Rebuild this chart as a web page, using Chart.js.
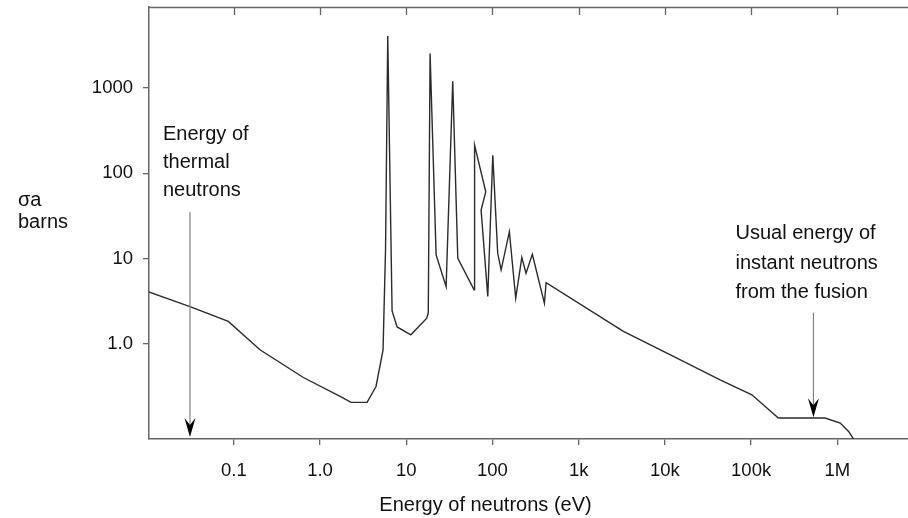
<!DOCTYPE html>
<html><head><meta charset="utf-8">
<script src="https://cdn.jsdelivr.net/npm/chart.js@4/dist/chart.umd.min.js"></script>
<style>html,body{margin:0;padding:0;background:#fff}#wrap{width:908px;height:518px;position:relative}</style>
</head><body><div id="wrap"><canvas id="c" width="908" height="518"></canvas></div>
<script>
// Neutron energy (eV) and absorption cross-section (barns)
const energyEV = [0.01, 0.031, 0.0863, 0.201, 0.64, 1.71, 2.29, 3.51, 4.46, 5.38, 5.75, 6.1,
  6.85, 7.83, 11.3, 17.3, 18.0, 18.9, 22.2, 29.0, 34.6, 39.6, 61.2, 62.0, 83.6, 73.8, 88.2,
  100.8, 115, 126, 157, 186, 219, 245, 290, 400, 419, 3300, 12550, 43700, 102000, 207000,
  721000, 1080000, 1350000, 1540000];
const sigmaBarns = [4.1, 2.72, 1.82, 0.846, 0.40, 0.24, 0.204, 0.204, 0.314, 0.846, 12.6, 4090,
  2.42, 1.57, 1.27, 1.99, 2.3, 2545, 11.0, 4.67, 1205, 10.05, 4.27, 214, 60.7, 37.0, 3.57,
  163, 11.5, 7.33, 20.6, 3.42, 10.3, 6.7, 11.2, 2.98, 5.2, 1.39, 0.706, 0.376, 0.251, 0.134,
  0.134, 0.117, 0.093, 0.0759];
const xTickValues = [0.1, 1, 10, 100, 1e3, 1e4, 1e5, 1e6];
const xTickLabels = ['0.1', '1.0', '10', '100', '1k', '10k', '100k', '1M'];
const yTickValues = [1, 10, 100, 1000];
const yTickLabels = ['1.0', '10', '100', '1000'];
const thermalArrow = {x: 0.031, yTop: 35.1};
const fusionArrow = {x: 5.28e5, yTop: 2.3, yBottom: 0.137};

const FONT = '"Liberation Sans", Arial, Helvetica, sans-serif';
const AXIS = '#666';

function arrow(ctx, x, y0, y1) {
  ctx.save();
  ctx.strokeStyle = '#808080';
  ctx.lineWidth = 1.2;
  ctx.beginPath();
  ctx.moveTo(x, y0);
  ctx.lineTo(x, y1 - 8);
  ctx.stroke();
  ctx.fillStyle = '#000';
  ctx.beginPath();
  ctx.moveTo(x, y1);
  ctx.lineTo(x - 5.5, y1 - 19);
  ctx.lineTo(x, y1 - 12);
  ctx.lineTo(x + 5.5, y1 - 19);
  ctx.closePath();
  ctx.fill();
  ctx.restore();
}

const decor = {
  id: 'decor',
  afterDraw(chart) {
    const ctx = chart.ctx, a = chart.chartArea;
    const xs = chart.scales.x, ys = chart.scales.y;
    ctx.save();
    ctx.strokeStyle = AXIS;
    ctx.lineWidth = 1.5;
    ctx.beginPath();
    ctx.moveTo(a.left, a.top + 0.5);
    ctx.lineTo(a.right, a.top + 0.5);
    ctx.stroke();
    ctx.lineWidth = 1.3;
    xTickValues.forEach(v => {
      const px = Math.round(xs.getPixelForValue(v)) + 0.5;
      ctx.beginPath();
      ctx.moveTo(px, a.top);
      ctx.lineTo(px, a.top + 8);
      ctx.stroke();
    });
    arrow(ctx, xs.getPixelForValue(thermalArrow.x), ys.getPixelForValue(thermalArrow.yTop), a.bottom - 2);
    arrow(ctx, xs.getPixelForValue(fusionArrow.x), ys.getPixelForValue(fusionArrow.yTop), ys.getPixelForValue(fusionArrow.yBottom));
    ctx.fillStyle = '#111';
    ctx.font = '20px ' + FONT;
    ctx.textBaseline = 'alphabetic';
    ctx.textAlign = 'left';
    ctx.fillText('Energy of', 163, 139.5);
    ctx.fillText('thermal', 163, 167.5);
    ctx.fillText('neutrons', 163, 195.7);
    ctx.fillText('Usual energy of', 735.5, 239);
    ctx.fillText('instant neutrons', 735.5, 269);
    ctx.fillText('from the fusion', 735.5, 298.3);
    ctx.fillText('\u03C3a', 18, 206);
    ctx.fillText('barns', 18, 228.3);
    ctx.textAlign = 'center';
    ctx.fillText('Energy of neutrons (eV)', 485.5, 511);
    ctx.restore();
  }
};

new Chart(document.getElementById('c'), {
  type: 'line',
  data: {
    datasets: [{
      data: energyEV.map((e, i) => ({x: e, y: sigmaBarns[i]})),
      borderColor: '#2b2b2b',
      borderWidth: 1.4,
      pointRadius: 0,
      tension: 0,
      fill: false
    }]
  },
  options: {
    responsive: false,
    animation: false,
    devicePixelRatio: 1,
    layout: {padding: {top: 7, right: 0, left: 0, bottom: 0}},
    plugins: {legend: {display: false}, tooltip: {enabled: false}},
    scales: {
      x: {
        type: 'logarithmic',
        min: 0.01038,
        max: 6.6e6,
        afterBuildTicks: s => { s.ticks = xTickValues.map(v => ({value: v})); },
        afterFit: s => { s.height = 79; s.paddingLeft = 0; s.paddingRight = 0; },
        ticks: {
          callback: v => { const i = xTickValues.indexOf(v); return i >= 0 ? xTickLabels[i] : ''; },
          font: {family: FONT, size: 18.5},
          color: '#111',
          padding: 15,
          maxRotation: 0,
          autoSkip: false
        },
        grid: {drawOnChartArea: false, drawTicks: true, tickLength: 6, color: AXIS, lineWidth: 1.3},
        border: {color: AXIS, width: 1.5}
      },
      y: {
        type: 'logarithmic',
        min: 0.0759,
        max: 8950,
        afterBuildTicks: s => { s.ticks = yTickValues.map(v => ({value: v})); },
        afterFit: s => { s.width = 149; s.paddingTop = 0; s.paddingBottom = 0; },
        ticks: {
          callback: v => { const i = yTickValues.indexOf(v); return i >= 0 ? yTickLabels[i] : ''; },
          font: {family: FONT, size: 18.5},
          color: '#111',
          padding: 10,
          autoSkip: false
        },
        grid: {drawOnChartArea: false, drawTicks: true, tickLength: 6, color: AXIS, lineWidth: 1.3},
        border: {color: AXIS, width: 1.5}
      }
    }
  },
  plugins: [decor]
});
</script>
</body></html>
